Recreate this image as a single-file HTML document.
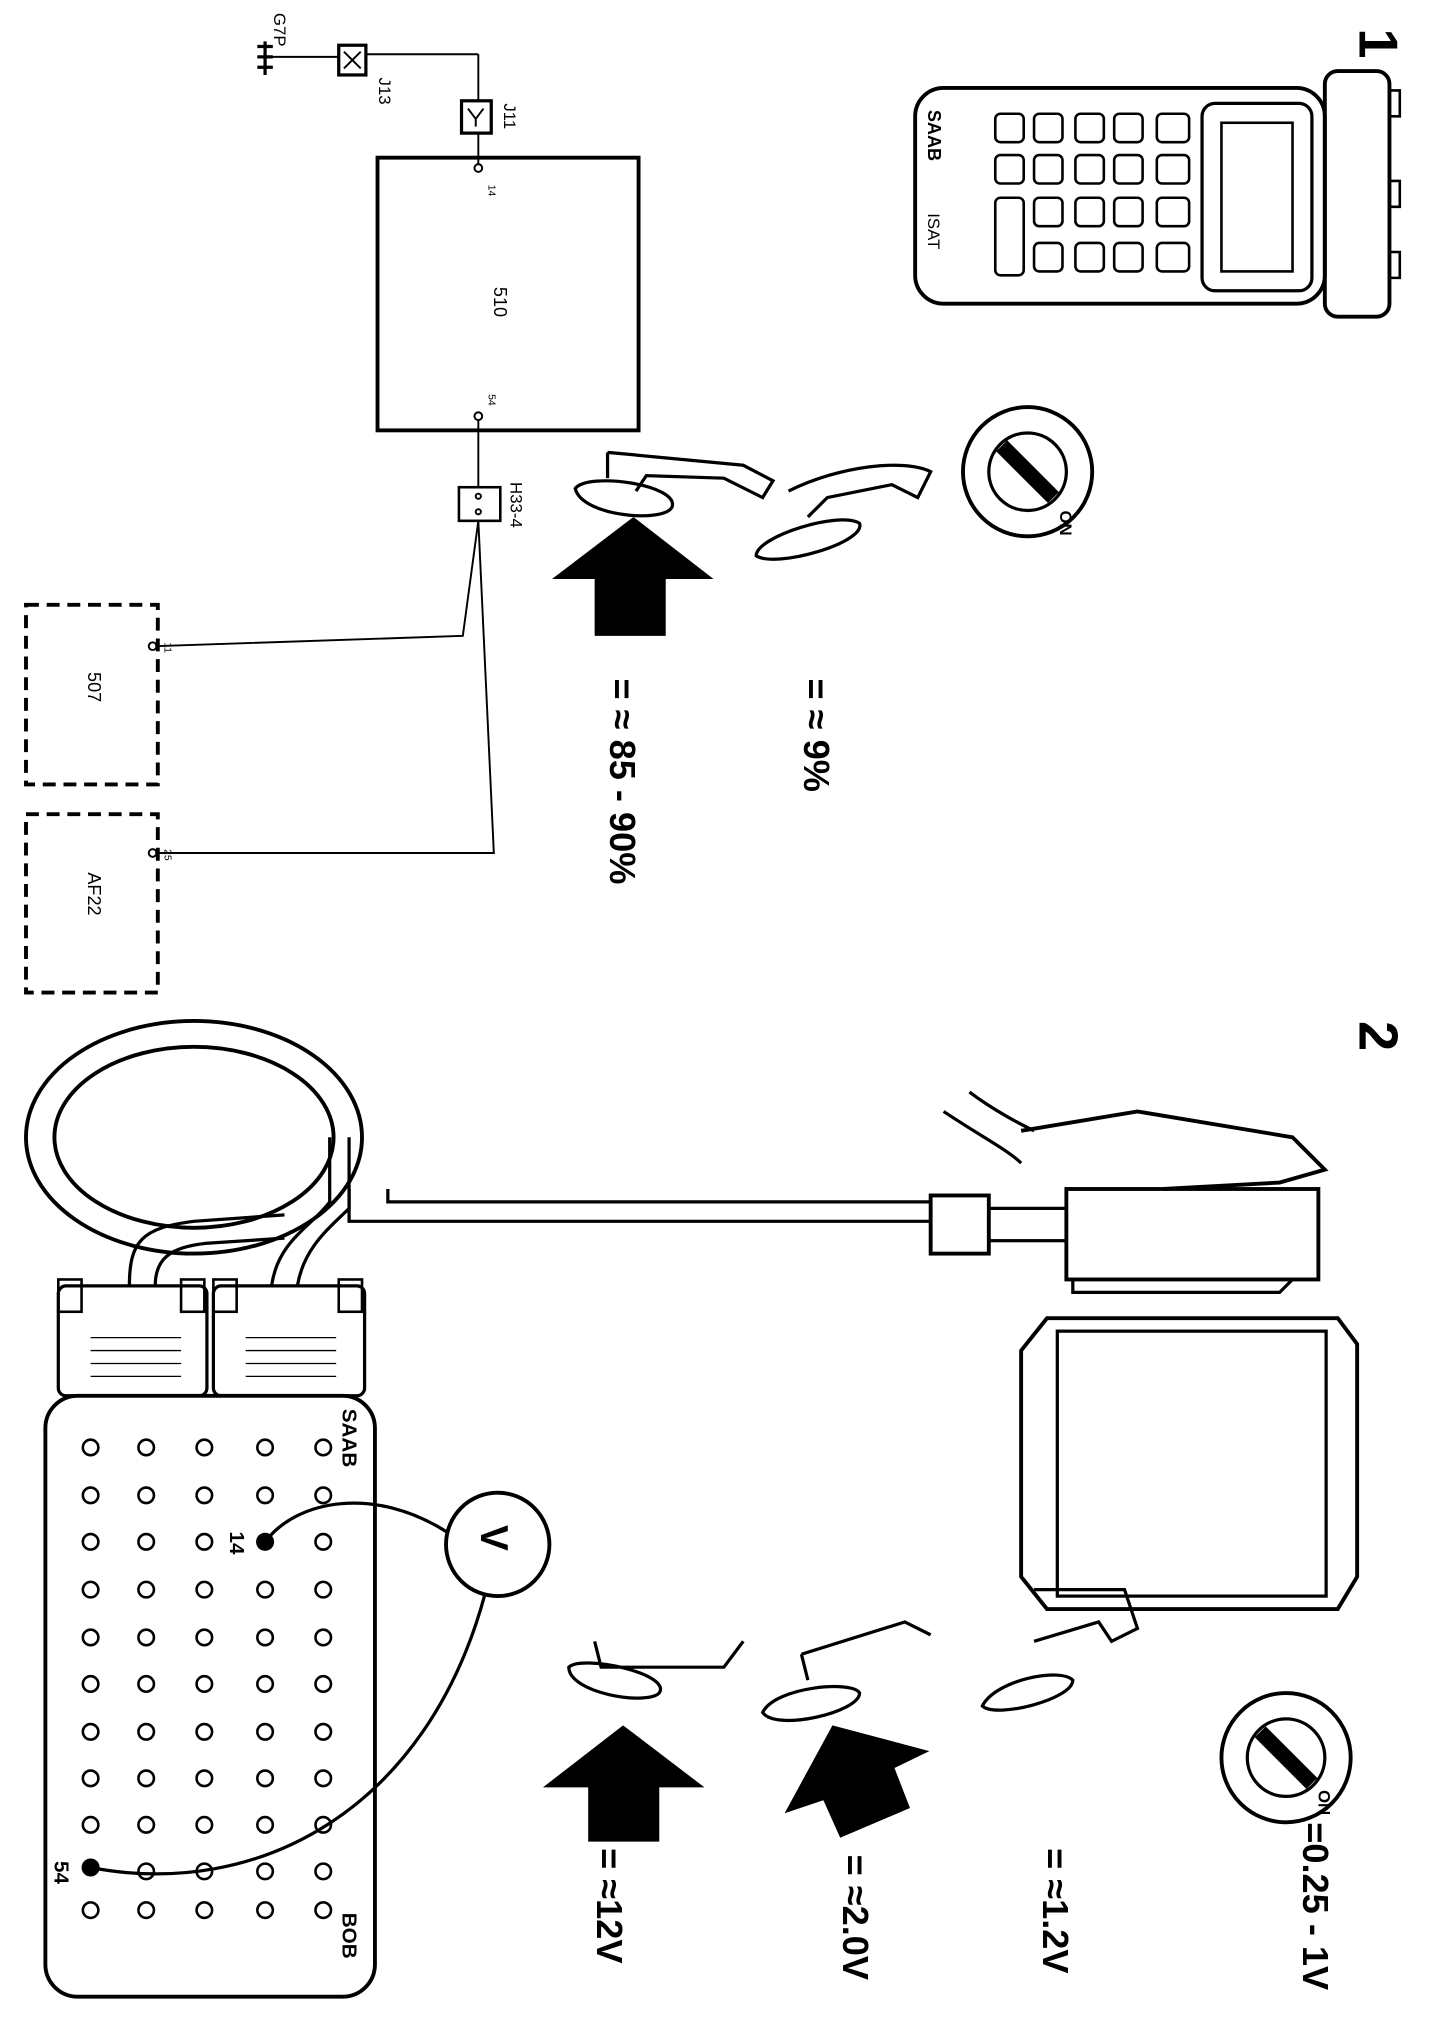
<!DOCTYPE html>
<html><head><meta charset="utf-8"><style>
html,body{margin:0;padding:0;background:#fff;}
svg{display:block;}
text{font-family:"Liberation Sans",sans-serif;fill:#000;}
</style></head><body>
<svg width="1440" height="2020" viewBox="0 0 1114 1563" xmlns="http://www.w3.org/2000/svg">
<g fill="none" stroke="#000" stroke-width="1.5">
<!-- schematic -->
<rect x="292" y="122" width="202" height="211" stroke-width="3"/>
<circle cx="370" cy="130" r="3"/><circle cx="370" cy="322" r="3"/>
<line x1="370" y1="127" x2="370" y2="103"/>
<rect x="357" y="78" width="23" height="25" stroke-width="2.5"/>
<path d="M362,84 L368,92 L374,84 M368,92 L368,98"/>
<line x1="370" y1="78" x2="370" y2="42"/>
<line x1="370" y1="42" x2="283" y2="42"/>
<rect x="262" y="35" width="21" height="23" stroke-width="2.5"/>
<path d="M266,40 L279,53 M279,40 L266,53"/>
<line x1="262" y1="44" x2="205" y2="44"/>
<path d="M205,32 L205,58 M199,36 L211,36 M199,44 L211,44 M199,52 L211,52" stroke-width="2.5"/>
<line x1="370" y1="325" x2="370" y2="377"/>
<rect x="355" y="377" width="32" height="26" stroke-width="2"/>
<circle cx="370" cy="384" r="2"/><circle cx="370" cy="396" r="2"/>
<path d="M370,403 L358,492 L120,500"/>
<path d="M370,403 L382,660 L120,660"/>
<circle cx="118" cy="500" r="3"/><circle cx="118" cy="660" r="3"/>
<rect x="20" y="468" width="102" height="139" stroke-width="3" stroke-dasharray="10,6"/>
<rect x="20" y="630" width="102" height="138" stroke-width="3" stroke-dasharray="10,6"/>

<!-- ISAT tester -->
<rect x="708" y="68" width="317" height="167" rx="22" stroke-width="3"/>
<rect x="930" y="80" width="85" height="145" rx="10" stroke-width="2.5"/>
<rect x="945" y="95" width="55" height="115" stroke-width="2"/>
<rect x="1025" y="55" width="50" height="190" rx="10" stroke-width="3"/>
<path d="M1075,70 h8 v20 h-8 M1075,140 h8 v20 h-8 M1075,195 h8 v20 h-8" stroke-width="2"/>
<g stroke-width="2">
<rect x="770" y="88" width="22" height="22" rx="4"/><rect x="800" y="88" width="22" height="22" rx="4"/><rect x="832" y="88" width="22" height="22" rx="4"/><rect x="862" y="88" width="22" height="22" rx="4"/><rect x="895" y="88" width="25" height="22" rx="4"/>
<rect x="770" y="120" width="22" height="22" rx="4"/><rect x="800" y="120" width="22" height="22" rx="4"/><rect x="832" y="120" width="22" height="22" rx="4"/><rect x="862" y="120" width="22" height="22" rx="4"/><rect x="895" y="120" width="25" height="22" rx="4"/>
<rect x="770" y="153" width="22" height="60" rx="4"/><rect x="800" y="153" width="22" height="22" rx="4"/><rect x="832" y="153" width="22" height="22" rx="4"/><rect x="862" y="153" width="22" height="22" rx="4"/><rect x="895" y="153" width="25" height="22" rx="4"/>
<rect x="800" y="188" width="22" height="22" rx="4"/><rect x="832" y="188" width="22" height="22" rx="4"/><rect x="862" y="188" width="22" height="22" rx="4"/><rect x="895" y="188" width="25" height="22" rx="4"/>
</g>

<!-- ignition 1 -->
<circle cx="795" cy="365" r="50" stroke-width="3"/>
<circle cx="795" cy="365" r="30" stroke-width="2.5"/>
<line x1="775" y1="345" x2="815" y2="385" stroke-width="12"/>
<!-- pedals 1 -->
<path d="M470,350 L575,360 L598,372 L590,385 L560,370 L500,368 L492,380" stroke-width="2.5"/>
<path d="M470,350 L470,370 M445,378 C455,365 525,375 520,392 C515,405 450,400 445,378 Z" stroke-width="2.5"/>
<path d="M610,380 C650,360 700,355 720,365 L710,385 L690,375 L640,385 L625,400" stroke-width="2.5"/>
<path d="M585,430 C585,415 650,395 665,405 C670,420 600,440 585,430 Z" stroke-width="2.5"/>

<!-- Part 2 -->
<rect x="35" y="1080" width="255" height="465" rx="25" stroke-width="3"/>
<rect x="45" y="995" width="115" height="85" rx="6" stroke-width="2.5"/>
<rect x="165" y="995" width="117" height="85" rx="6" stroke-width="2.5"/>
<path d="M70,1035 h70 M70,1045 h70 M70,1055 h70 M70,1065 h70 M190,1035 h70 M190,1045 h70 M190,1055 h70 M190,1065 h70" stroke-width="1"/>
<rect x="45" y="990" width="18" height="25" stroke-width="2"/><rect x="140" y="990" width="18" height="25" stroke-width="2"/>
<rect x="165" y="990" width="18" height="25" stroke-width="2"/><rect x="262" y="990" width="18" height="25" stroke-width="2"/>
<path d="M100,995 C100,960 110,950 150,945 L220,940 M120,995 C120,975 130,965 160,962 L220,958" stroke-width="2.5"/>
<path d="M210,995 C215,960 240,950 255,930 L255,880 M230,995 C235,965 255,950 270,935 L270,880" stroke-width="2.5"/>
<ellipse cx="150" cy="880" rx="130" ry="90" stroke-width="3"/>
<ellipse cx="150" cy="880" rx="108" ry="70" stroke-width="3"/>
<path d="M270,920 L270,945 L720,945 M300,920 L300,930 L720,930" stroke-width="2.5"/>
<rect x="720" y="925" width="45" height="45" stroke-width="3"/>
<rect x="765" y="935" width="60" height="25" stroke-width="2.5"/>
<rect x="825" y="920" width="195" height="70" stroke-width="3"/>
<path d="M730,860 C760,880 780,890 790,900 M750,845 C770,860 790,870 800,875" stroke-width="2.5"/>
<path d="M790,875 L880,860 L1000,880 L1025,905 L990,915 L900,920" stroke-width="3"/>
<path d="M830,990 L830,1000 L990,1000 L1000,990" stroke-width="2.5"/>
<path d="M790,1045 L810,1020 L1035,1020 L1050,1040 L1050,1220 L1035,1245 L810,1245 L790,1220 Z" stroke-width="3"/>
<rect x="818" y="1030" width="208" height="205" stroke-width="2.5"/>
<g stroke-width="2">
<circle cx="70" cy="1120" r="6"/><circle cx="113" cy="1120" r="6"/><circle cx="158" cy="1120" r="6"/><circle cx="205" cy="1120" r="6"/><circle cx="250" cy="1120" r="6"/>
<circle cx="70" cy="1157" r="6"/><circle cx="113" cy="1157" r="6"/><circle cx="158" cy="1157" r="6"/><circle cx="205" cy="1157" r="6"/><circle cx="250" cy="1157" r="6"/>
<circle cx="70" cy="1193" r="6"/><circle cx="113" cy="1193" r="6"/><circle cx="158" cy="1193" r="6"/><circle cx="250" cy="1193" r="6"/>
<circle cx="70" cy="1230" r="6"/><circle cx="113" cy="1230" r="6"/><circle cx="158" cy="1230" r="6"/><circle cx="205" cy="1230" r="6"/><circle cx="250" cy="1230" r="6"/>
<circle cx="70" cy="1267" r="6"/><circle cx="113" cy="1267" r="6"/><circle cx="158" cy="1267" r="6"/><circle cx="205" cy="1267" r="6"/><circle cx="250" cy="1267" r="6"/>
<circle cx="70" cy="1303" r="6"/><circle cx="113" cy="1303" r="6"/><circle cx="158" cy="1303" r="6"/><circle cx="205" cy="1303" r="6"/><circle cx="250" cy="1303" r="6"/>
<circle cx="70" cy="1340" r="6"/><circle cx="113" cy="1340" r="6"/><circle cx="158" cy="1340" r="6"/><circle cx="205" cy="1340" r="6"/><circle cx="250" cy="1340" r="6"/>
<circle cx="70" cy="1376" r="6"/><circle cx="113" cy="1376" r="6"/><circle cx="158" cy="1376" r="6"/><circle cx="205" cy="1376" r="6"/><circle cx="250" cy="1376" r="6"/>
<circle cx="70" cy="1412" r="6"/><circle cx="113" cy="1412" r="6"/><circle cx="158" cy="1412" r="6"/><circle cx="205" cy="1412" r="6"/><circle cx="250" cy="1412" r="6"/>
<circle cx="113" cy="1448" r="6"/><circle cx="158" cy="1448" r="6"/><circle cx="205" cy="1448" r="6"/><circle cx="250" cy="1448" r="6"/>
<circle cx="70" cy="1478" r="6"/><circle cx="113" cy="1478" r="6"/><circle cx="158" cy="1478" r="6"/><circle cx="205" cy="1478" r="6"/><circle cx="250" cy="1478" r="6"/>
</g>
<circle cx="385" cy="1195" r="40" stroke-width="3"/>
<path d="M205,1193 C230,1160 290,1150 345,1185" stroke-width="2.5"/>
<path d="M375,1234 C330,1400 200,1470 70,1445" stroke-width="2.5"/>

<!-- ignition 2 -->
<circle cx="995" cy="1360" r="50" stroke-width="3"/>
<circle cx="995" cy="1360" r="30" stroke-width="2.5"/>
<line x1="975" y1="1340" x2="1015" y2="1380" stroke-width="12"/>
<!-- pedals 2 -->
<path d="M460,1270 L465,1290 L560,1290 L575,1270 M440,1290 C450,1280 520,1295 510,1310 C500,1320 440,1310 440,1290 Z" stroke-width="2.5"/>
<path d="M620,1280 L700,1255 L720,1265 M590,1325 C600,1305 660,1300 665,1310 C665,1325 600,1340 590,1325 Z M620,1280 L625,1300" stroke-width="2.5"/>
<path d="M800,1230 L870,1230 L880,1260 L860,1270 L850,1255 L800,1270 M760,1320 C770,1300 820,1290 830,1300 C830,1315 770,1330 760,1320 Z" stroke-width="2.5"/>
</g>
<g fill="#000">
<path d="M490,400 L552,448 L515,448 L515,492 L460,492 L460,448 L427,448 Z"/>
<path d="M482,1335 L545,1383 L510,1383 L510,1425 L455,1425 L455,1383 L420,1383 Z"/>
<path d="M644,1335 L719,1355 L692,1368 L704,1399 L650,1422 L637,1393 L607,1403 Z"/>
<circle cx="205" cy="1193" r="7"/><circle cx="70" cy="1445" r="7"/>
</g>
<g>
<text transform="translate(1052,22) rotate(90)" font-size="42" font-weight="bold">1</text>
<text transform="translate(1052,790) rotate(90)" font-size="42" font-weight="bold">2</text>
<text transform="translate(382,222) rotate(90)" font-size="14">510</text>
<text transform="translate(378,143) rotate(90)" font-size="8">14</text>
<text transform="translate(378,305) rotate(90)" font-size="8">54</text>
<text transform="translate(390,80) rotate(90)" font-size="13">J11</text>
<text transform="translate(293,60) rotate(90)" font-size="13">J13</text>
<text transform="translate(212,10) rotate(90)" font-size="13">G7P</text>
<text transform="translate(395,373) rotate(90)" font-size="13">H33-4</text>
<text transform="translate(127,497) rotate(90)" font-size="8">11</text>
<text transform="translate(127,657) rotate(90)" font-size="8">25</text>
<text transform="translate(68,520) rotate(90)" font-size="14">507</text>
<text transform="translate(68,675) rotate(90)" font-size="14">AF22</text>
<text transform="translate(718,85) rotate(90)" font-size="14" font-weight="bold">SAAB</text>
<text transform="translate(718,165) rotate(90)" font-size="13">ISAT</text>
<text transform="translate(820,395) rotate(90)" font-size="13" font-weight="bold">ON</text>
<text transform="translate(1020,1385) rotate(90)" font-size="13" font-weight="bold">ON</text>
<text transform="translate(622,525) rotate(90)" font-size="28" font-weight="bold">= ≈ 9%</text>
<text transform="translate(472,525) rotate(90)" font-size="28" font-weight="bold">= ≈ 85 - 90%</text>
<text transform="translate(462,1430) rotate(90)" font-size="28" font-weight="bold">= ≈12V</text>
<text transform="translate(652,1435) rotate(90)" font-size="28" font-weight="bold">= ≈2.0V</text>
<text transform="translate(807,1430) rotate(90)" font-size="28" font-weight="bold">= ≈1.2V</text>
<text transform="translate(1008,1410) rotate(90)" font-size="28" font-weight="bold">=0.25 - 1V</text>
<text transform="translate(372,1180) rotate(90)" font-size="30" font-weight="bold">V</text>
<text transform="translate(265,1090) rotate(90)" font-size="16" font-weight="bold">SAAB</text>
<text transform="translate(265,1480) rotate(90)" font-size="16" font-weight="bold">BOB</text>
<text transform="translate(178,1185) rotate(90)" font-size="16" font-weight="bold">14</text>
<text transform="translate(42,1440) rotate(90)" font-size="16" font-weight="bold">54</text>
</g>
</svg>
</body></html>
